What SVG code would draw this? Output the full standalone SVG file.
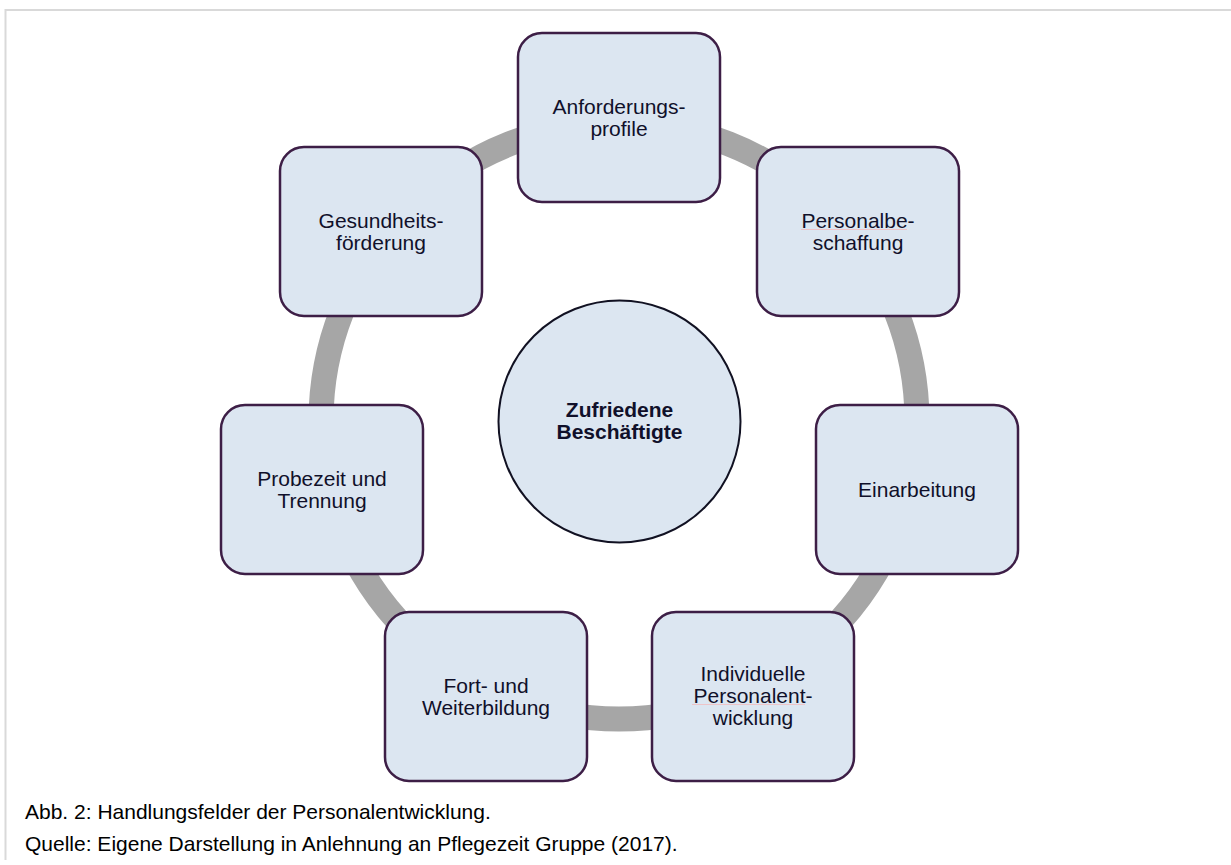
<svg xmlns="http://www.w3.org/2000/svg" width="1231" height="865" viewBox="0 0 1231 865">
<style>
.bg{fill:#ffffff}
.frame{stroke:#d9d9d9;stroke-width:2;fill:none}
.ring{fill:none;stroke:#a6a6a6;stroke-width:25}
.box{fill:#dce6f1;stroke:#3d1e46;stroke-width:2.5}
.hub{fill:#dce6f1;stroke:#111122;stroke-width:2}
.t{font-family:"Liberation Sans",Arial,sans-serif;font-size:21px;fill:#10102a;text-anchor:middle}
.tb{font-family:"Liberation Sans",Arial,sans-serif;font-size:21px;font-weight:bold;fill:#10102a;text-anchor:middle}
.cap{font-family:"Liberation Sans",Arial,sans-serif;font-size:21px;fill:#000000}
.spell{stroke:#eec4c8;stroke-width:1;fill:none}
</style>
<rect class="bg" x="0" y="0" width="1231" height="865"/>
<g id="frame">
<line class="frame" x1="5.5" y1="10" x2="1231" y2="10"/>
<line class="frame" x1="5.5" y1="9" x2="5.5" y2="860"/>
</g>
<g id="connectors">
<circle class="ring" cx="619" cy="421" r="298"/>
</g>
<g id="hub">
<circle class="hub" cx="619.5" cy="421.5" r="121"/>
<text class="tb" x="619.5" y="417">Zufriedene</text>
<text class="tb" x="619.5" y="439">Beschäftigte</text>
</g>
<g id="n-anforderung">
<rect class="box" x="518" y="33" width="202" height="169" rx="24"/>
<text class="t" x="619" y="114">Anforderungs-</text>
<text class="t" x="619" y="136">profile</text>
</g>
<g id="n-personalbeschaffung">
<rect class="box" x="757" y="147" width="202" height="169" rx="24"/>
<text class="t" x="858" y="228">Personalbe-</text>
<text class="t" x="858" y="250">schaffung</text>
<line class="spell" x1="801" y1="229.5" x2="907" y2="229.5"/>
</g>
<g id="n-einarbeitung">
<rect class="box" x="816" y="405" width="202" height="169" rx="24"/>
<text class="t" x="917" y="497">Einarbeitung</text>
</g>
<g id="n-individuelle">
<rect class="box" x="652" y="612" width="202" height="169" rx="24"/>
<text class="t" x="753" y="681">Individuelle</text>
<text class="t" x="753" y="703">Personalent-</text>
<text class="t" x="753" y="725">wicklung</text>
<line class="spell" x1="692" y1="704.5" x2="805" y2="704.5"/>
</g>
<g id="n-fortbildung">
<rect class="box" x="385" y="612" width="202" height="169" rx="24"/>
<text class="t" x="486" y="693">Fort- und</text>
<text class="t" x="486" y="715">Weiterbildung</text>
</g>
<g id="n-probezeit">
<rect class="box" x="221" y="405" width="202" height="169" rx="24"/>
<text class="t" x="322" y="486">Probezeit und</text>
<text class="t" x="322" y="508">Trennung</text>
</g>
<g id="n-gesundheit">
<rect class="box" x="280" y="147" width="202" height="169" rx="24"/>
<text class="t" x="381" y="228">Gesundheits-</text>
<text class="t" x="381" y="250">förderung</text>
</g>
<g id="caption">
<text class="cap" x="25" y="819">Abb. 2: Handlungsfelder der Personalentwicklung.</text>
<text class="cap" x="25" y="851">Quelle: Eigene Darstellung in Anlehnung an Pflegezeit Gruppe (2017).</text>
</g>
</svg>
